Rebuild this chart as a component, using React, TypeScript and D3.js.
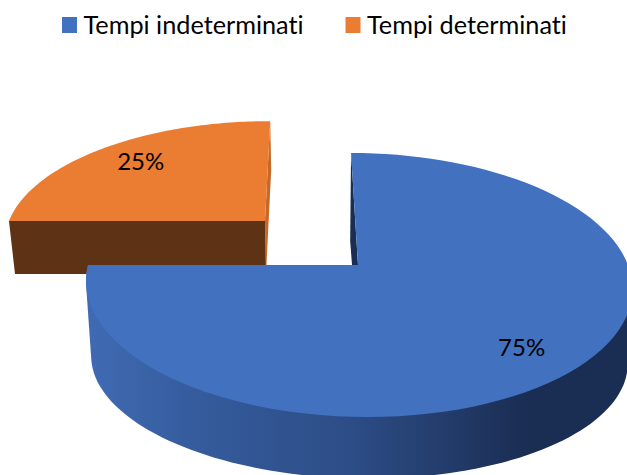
import React from "react";
import * as d3 from "d3";

const categories = ["Tempi indeterminati", "Tempi determinati"];
const shares = [75, 25];
const colors = ["#4271c0", "#ea7d32"];
const outerWallColors = ["#2f5088", "#5e3214"];

const WIDTH = 627;
const HEIGHT = 475;
const FONT = "Lato, 'Open Sans', sans-serif";

type Plane = { cx: number; cy: number; rx: number; ry: number; skew: number; k: number };

// Perspective planes of the disc: upper surface and lower rim of each slice.
const planes: { top: Plane; bottom: Plane }[] = [
  {
    top: { cx: 358, cy: 265, rx: 270, ry: 129, skew: -8, k: 0.1515 },
    bottom: { cx: 358, cy: 342, rx: 265, ry: 116, skew: -9, k: 0.1515 },
  },
  {
    top: { cx: 265, cy: 221, rx: 256, ry: 115, skew: 6, k: 0.1515 },
    bottom: { cx: 266, cy: 274, rx: 251, ry: 120, skew: 6, k: 0.1515 },
  },
];

// Small label shifts from the slice's mid-angle anchor.
const labelNudges: [number, number][] = [
  [-6, 4],
  [4.5, 0],
];

// Pie angle (0 = up, clockwise) and radius fraction to screen coordinates.
const project = (p: Plane, angle: number, r = 1): [number, number] => {
  const u = Math.sin(angle) * r;
  const v = Math.cos(angle) * r;
  const w = 1 + p.k * v;
  return [p.cx + (p.rx * u + p.skew * v) / w, p.cy - (p.ry * v) / w];
};

const samples = (a0: number, a1: number) => d3.range(0, 97).map((i) => a0 + ((a1 - a0) * i) / 96);
const line = d3.line();

export default function App() {
  const arcs = d3.pie<number>().sort(null).startAngle(0).endAngle(2 * Math.PI)(shares);

  const blue = arcs[0];
  const orange = arcs[1];
  const bluePlanes = planes[0];
  const orangePlanes = planes[1];

  const face = (p: Plane, a0: number, a1: number) =>
    line([[p.cx, p.cy], ...samples(a0, a1).map((a) => project(p, a))]) + "Z";

  // Silhouette of the blue slice's outer wall: hull of the front half of both rims.
  const frontAngles = samples(Math.PI / 2, blue.endAngle);
  const blueHull = d3.polygonHull([
    ...frontAngles.map((a) => project(bluePlanes.top, a)),
    ...frontAngles.map((a) => project(bluePlanes.bottom, a)),
  ]) as [number, number][];
  const blueRim = line(blueHull) + "Z";

  // Straight wall behind the upper edge of the blue slice.
  const blueInner =
    line([
      project(bluePlanes.top, blue.startAngle),
      [bluePlanes.top.cx, bluePlanes.top.cy],
      [bluePlanes.bottom.cx, bluePlanes.bottom.cy],
      project(bluePlanes.bottom, blue.startAngle),
    ]) + "Z";

  // Walls of the pulled-out orange slice.
  const orangeFront =
    line([
      project(orangePlanes.top, orange.startAngle),
      [orangePlanes.top.cx, orangePlanes.top.cy],
      [orangePlanes.bottom.cx, orangePlanes.bottom.cy],
      project(orangePlanes.bottom, orange.startAngle),
    ]) + "Z";
  const orangeSide =
    line([
      project(orangePlanes.top, orange.endAngle),
      [orangePlanes.top.cx, orangePlanes.top.cy],
      [orangePlanes.bottom.cx, orangePlanes.bottom.cy],
      project(orangePlanes.bottom, orange.endAngle),
    ]) + "Z";

  const labelAt = (i: number) => {
    const mid = (arcs[i].startAngle + arcs[i].endAngle) / 2;
    const [x, y] = project(planes[i].top, mid, 0.79);
    return [x + labelNudges[i][0], y + labelNudges[i][1]];
  };

  const legendX = [62, 345.5];

  return (
    <svg
      width={WIDTH}
      height={HEIGHT}
      viewBox={`0 0 ${WIDTH} ${HEIGHT}`}
      style={{ position: "absolute", left: 0, top: 0, background: "#fff" }}
    >
      <defs>
        <linearGradient id="blueWall" gradientUnits="userSpaceOnUse" x1={85} x2={627} y1={0} y2={0}>
          <stop offset="0" stopColor="#406bb4" />
          <stop offset="0.18" stopColor="#365d9f" />
          <stop offset="0.5" stopColor="#2c4c85" />
          <stop offset="0.82" stopColor="#1a2d52" />
          <stop offset="1" stopColor="#1a2d52" />
        </linearGradient>
      </defs>

      {categories.map((name, i) => (
        <g key={name}>
          <rect x={legendX[i]} y={17} width={15} height={16} fill={colors[i]} />
          <text
            x={legendX[i] + 21.5}
            y={33.5}
            fontFamily={FONT}
            fontSize={25.25}
            fill="#000"
            style={{ fontVariantLigatures: "none" }}
          >
            {name}
          </text>
        </g>
      ))}

      <path d={orangeSide} fill="#c4692a" />
      <path d={orangeFront} fill={outerWallColors[1]} />
      <path d={face(orangePlanes.top, orange.startAngle, orange.endAngle)} fill={colors[1]} />

      <path d={blueInner} fill="#1a2d52" />
      <path d={blueRim} fill="url(#blueWall)" />
      <path d={face(bluePlanes.top, blue.startAngle, blue.endAngle)} fill={colors[0]} />

      {shares.map((value, i) => {
        const [x, y] = labelAt(i);
        return (
          <text
            key={categories[i]}
            x={x}
            y={y + 8}
            textAnchor="middle"
            fontFamily={FONT}
            fontSize={24}
            fill="#000"
          >
            {value}%
          </text>
        );
      })}
    </svg>
  );
}
